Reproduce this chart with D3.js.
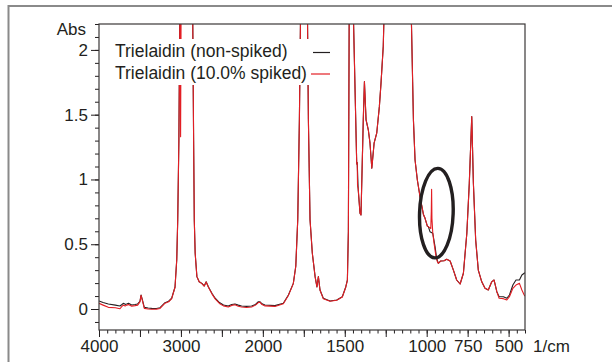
<!DOCTYPE html>
<html>
<head>
<meta charset="utf-8">
<script src="https://cdn.jsdelivr.net/npm/d3@7"></script>
<style>
  body { margin: 0; background: #fff; }
  svg { display: block; font-family: 'Liberation Sans', Arial, sans-serif; }
  .axis text { font-size: 17px; fill: #231f20; }
  .axis line { stroke: #231f20; }
  .label { font-size: 17px; fill: #231f20; }
</style>
</head>
<body>
<svg id="chart"></svg>
<script>
// values: [wavenumber (1/cm), absorbance]
// values above the top of the axis are peaks that run off the chart
const nonSpiked = [
  [4000, 0.062], [3950, 0.05], [3886, 0.039], [3800, 0.03], [3744, 0.023], [3720, 0.035],
  [3703, 0.044], [3680, 0.036], [3662, 0.039], [3640, 0.045], [3601, 0.031], [3560, 0.035],
  [3528, 0.039], [3500, 0.06], [3487, 0.108], [3470, 0.07], [3447, 0.013], [3400, 0.008],
  [3357, 0.005], [3300, 0.004], [3255, 0.01], [3194, 0.049], [3150, 0.06], [3113, 0.083],
  [3072, 0.17], [3051, 0.38], [3039, 0.69], [3025, 1.3], [3010, 2.6], [2860, 2.6],
  [2845, 1.3], [2837, 0.69], [2826, 0.43], [2805, 0.25], [2777, 0.21], [2744, 0.198],
  [2716, 0.178], [2692, 0.21], [2664, 0.17], [2620, 0.12], [2582, 0.083], [2530, 0.05],
  [2481, 0.031], [2422, 0.023], [2380, 0.035], [2340, 0.039], [2300, 0.03], [2259, 0.023],
  [2200, 0.02], [2137, 0.023], [2090, 0.035], [2055, 0.056], [2034, 0.056], [2010, 0.04],
  [1987, 0.031], [1926, 0.026], [1875, 0.044], [1844, 0.108], [1814, 0.198], [1799, 0.33],
  [1787, 0.69], [1777, 1.46], [1767, 2.6], [1730, 2.6], [1722, 1.46], [1712, 0.69],
  [1698, 0.43], [1681, 0.25], [1670, 0.17], [1661, 0.25], [1651, 0.147], [1631, 0.083],
  [1590, 0.062], [1549, 0.07], [1515, 0.095], [1494, 0.17], [1484, 0.224], [1478, 0.6],
  [1472, 2.6], [1451, 2.6], [1448, 2.3], [1427, 1.12], [1424, 1.13], [1418, 0.92],
  [1407, 0.74], [1401, 0.726], [1387, 1.46], [1380, 1.755], [1370, 1.46], [1356, 1.38],
  [1346, 1.28], [1335, 1.087], [1321, 1.28], [1305, 1.357], [1289, 1.56], [1279, 1.74],
  [1265, 2.03], [1254, 2.6], [1100, 2.6], [1093, 2.2], [1081, 1.46], [1071, 1.15],
  [1057, 0.996], [1041, 0.87], [1020, 0.73], [1010, 0.70], [996, 0.64], [990, 0.636],
  [980, 0.597], [963, 0.585], [949, 0.481], [939, 0.39], [929, 0.353], [914, 0.371],
  [894, 0.373], [878, 0.384], [857, 0.371], [837, 0.30], [817, 0.224], [796, 0.193],
  [776, 0.276], [755, 0.585], [740, 0.97], [725, 1.485], [715, 0.97], [701, 0.533],
  [685, 0.30], [664, 0.21], [644, 0.16], [624, 0.147], [603, 0.21], [589, 0.224],
  [572, 0.134], [558, 0.095], [532, 0.095], [511, 0.083], [495, 0.108], [474, 0.185],
  [455, 0.224], [434, 0.224], [419, 0.263], [405, 0.276], [400, 0.28]
];

const spiked = [
  [4000, 0.044], [3950, 0.03], [3886, 0.013], [3800, 0.01], [3744, 0.002], [3720, 0.02],
  [3703, 0.03], [3680, 0.024], [3662, 0.03], [3640, 0.034], [3601, 0.022], [3560, 0.026],
  [3528, 0.03], [3500, 0.055], [3487, 0.105], [3470, 0.065], [3447, 0.005], [3400, 0.0],
  [3357, -0.002], [3300, -0.001], [3255, 0.004], [3194, 0.045], [3150, 0.056], [3113, 0.08],
  [3072, 0.168], [3051, 0.38], [3039, 0.69], [3025, 1.3], [3012, 2.4], [3004, 1.33],
  [2996, 2.6], [2860, 2.6], [2845, 1.3], [2837, 0.69], [2826, 0.43], [2805, 0.25],
  [2777, 0.21], [2744, 0.196], [2716, 0.176], [2692, 0.208], [2664, 0.168], [2620, 0.115],
  [2582, 0.078], [2530, 0.043], [2481, 0.024], [2422, 0.015], [2380, 0.028], [2340, 0.033],
  [2300, 0.022], [2259, 0.015], [2200, 0.012], [2137, 0.016], [2090, 0.03], [2055, 0.05],
  [2034, 0.052], [2010, 0.034], [1987, 0.024], [1926, 0.02], [1875, 0.04], [1844, 0.105],
  [1814, 0.196], [1799, 0.33], [1787, 0.69], [1777, 1.46], [1767, 2.6], [1730, 2.6],
  [1722, 1.46], [1712, 0.69], [1698, 0.43], [1681, 0.25], [1670, 0.17], [1661, 0.25],
  [1651, 0.145], [1631, 0.08], [1590, 0.06], [1549, 0.068], [1515, 0.093], [1494, 0.168],
  [1484, 0.222], [1478, 0.6], [1472, 2.6], [1451, 2.6], [1448, 2.3], [1427, 1.12],
  [1424, 1.13], [1422, 0.95], [1418, 0.93], [1407, 0.74], [1401, 0.726], [1387, 1.46],
  [1380, 1.755], [1370, 1.46], [1356, 1.38], [1346, 1.28], [1335, 1.087], [1321, 1.28],
  [1305, 1.357], [1289, 1.56], [1279, 1.74], [1265, 2.03], [1254, 2.6], [1100, 2.6],
  [1093, 2.2], [1081, 1.46], [1071, 1.15], [1057, 0.996], [1041, 0.87], [1020, 0.73],
  [1010, 0.70], [996, 0.64], [990, 0.636], [975, 0.62], [972, 0.75], [970, 0.924],
  [968, 0.70], [963, 0.59], [955, 0.507], [943, 0.404], [935, 0.365], [929, 0.353],
  [914, 0.371], [894, 0.373], [878, 0.384], [857, 0.371], [837, 0.30], [817, 0.224],
  [796, 0.193], [776, 0.276], [755, 0.585], [740, 0.97], [725, 1.485], [715, 0.97],
  [701, 0.533], [685, 0.30], [664, 0.21], [644, 0.16], [624, 0.147], [603, 0.21],
  [589, 0.224], [572, 0.134], [558, 0.083], [532, 0.08], [511, 0.07], [495, 0.095],
  [474, 0.16], [455, 0.185], [434, 0.198], [419, 0.147], [405, 0.108], [400, 0.10]
];

const seriesNames = ['Trielaidin (non-spiked)', 'Trielaidin (10.0% spiked)'];
const seriesColors = ['#231f20', '#e31e24'];

// axis ticks: the wavenumber axis is split, with twice the scale below 2000
const xBreaks = [4000, 2000, 400];
const xMajor = [4000, 3500, 3000, 2500, 2000, 1750, 1500, 1250, 1000, 750, 500];
const xLabelled = [4000, 3000, 2000, 1500, 1000, 750, 500];
const yMajor = [0, 0.5, 1, 1.5, 2];
const yDomain = [-0.162, 2.2];

// the band that is circled, at about 941 1/cm
const circled = { wn: 941, abs: 0.74 };

class Spectrum {
    constructor(_config) {
        this.config = {
            parentElement: _config.parentElement,
            containerWidth: _config.containerWidth || 612,
            containerHeight: _config.containerHeight || 362,
            margin: _config.margin || {top: 24, right: 87, bottom: 32, left: 99}
        };
        this.initVis();
    }

    initVis() {
        let vis = this;
        vis.width = vis.config.containerWidth - vis.config.margin.left - vis.config.margin.right;
        vis.height = vis.config.containerHeight - vis.config.margin.top - vis.config.margin.bottom;

        vis.xScale = d3.scaleLinear()
            .domain(xBreaks)
            .range([0, vis.width * 2000 / 5200, vis.width]);

        vis.yScale = d3.scaleLinear()
            .domain(yDomain)
            .range([vis.height, 0]);

        vis.svg = d3.select(vis.config.parentElement)
            .attr('width', vis.config.containerWidth)
            .attr('height', vis.config.containerHeight);

        // grey frame round the whole figure
        vis.svg.append('rect')
            .attr('x', 8.5).attr('y', 6)
            .attr('width', 640).attr('height', 400)
            .attr('fill', 'none')
            .attr('stroke', '#8a8a8a')
            .attr('stroke-width', 2);

        vis.chart = vis.svg.append('g')
            .attr('transform', `translate(${vis.config.margin.left}, ${vis.config.margin.top})`);

        vis.chart.append('clipPath').attr('id', 'plot-clip')
            .append('rect')
            .attr('width', vis.width)
            .attr('height', vis.height);

        vis.updateVis();
    }

    updateVis() {
        let vis = this;

        // minor ticks
        let xMinor = d3.range(4000, 2000, -100).concat(d3.range(2000, 399, -50));
        vis.chart.append('g')
            .attr('class', 'axis')
            .attr('transform', `translate(0, ${vis.height})`)
            .call(d3.axisBottom(vis.xScale).tickValues(xMinor).tickSize(3.5).tickFormat(''))
            .call(g => g.select('.domain').remove());

        vis.chart.append('g')
            .attr('class', 'axis')
            .attr('transform', `translate(0, ${vis.height})`)
            .call(d3.axisBottom(vis.xScale)
                .tickValues(xMajor)
                .tickSize(7)
                .tickPadding(3)
                .tickFormat(d => xLabelled.includes(d) ? d : ''))
            .call(g => g.select('.domain').remove());

        let yMinor = d3.range(-1, 23).map(d => d / 10);
        vis.chart.append('g')
            .attr('class', 'axis')
            .call(d3.axisLeft(vis.yScale).tickValues(yMinor).tickSize(4).tickFormat(''))
            .call(g => g.select('.domain').remove());

        vis.chart.append('g')
            .attr('class', 'axis')
            .call(d3.axisLeft(vis.yScale)
                .tickValues(yMajor)
                .tickSize(8)
                .tickPadding(3)
                .tickFormat(d3.format('')))
            .call(g => g.select('.domain').remove());

        // spectra
        let line = d3.line()
            .x(d => vis.xScale(d[0]))
            .y(d => vis.yScale(d[1]));

        vis.chart.append('g')
            .attr('clip-path', 'url(#plot-clip)')
            .selectAll('.spectrum')
                .data([nonSpiked, spiked])
            .join('path')
                .attr('class', 'spectrum')
                .attr('fill', 'none')
                .attr('stroke', (d, i) => seriesColors[i])
                .attr('stroke-width', 1.1)
                .attr('stroke-linejoin', 'round')
                .attr('d', line);

        // legend sits on a white box that hides the lines
        vis.chart.append('rect')
            .attr('x', 11).attr('y', 15)
            .attr('width', 226).attr('height', 46)
            .attr('fill', '#fff');

        let legend = vis.chart.selectAll('.legend')
            .data(seriesNames)
            .join('g')
                .attr('class', 'legend')
                .attr('transform', (d, i) => `translate(16, ${33 + i * 21.5})`);

        legend.append('text')
            .attr('class', 'label')
            .style('font-size', '17.5px')
            .text(d => d);

        legend.append('line')
            .attr('x1', (d, i) => i === 0 ? 198 : 196)
            .attr('x2', 215)
            .attr('y1', -4.5).attr('y2', -4.5)
            .attr('stroke', (d, i) => seriesColors[i])
            .attr('stroke-width', 1.2);

        // ellipse round the spiked band
        vis.chart.append('ellipse')
            .attr('transform', `translate(${vis.xScale(circled.wn)}, ${vis.yScale(circled.abs)}) rotate(2)`)
            .attr('rx', 16.8)
            .attr('ry', 44.8)
            .attr('fill', 'none')
            .attr('stroke', '#231f20')
            .attr('stroke-width', 3.4);

        // frame round the plot
        vis.chart.append('rect')
            .attr('width', vis.width)
            .attr('height', vis.height)
            .attr('fill', 'none')
            .attr('stroke', '#3b3738')
            .attr('stroke-width', 1.2);

        // axis names
        vis.svg.append('text')
            .attr('class', 'label')
            .attr('x', 86).attr('y', 35)
            .style('text-anchor', 'end')
            .text('Abs');

        vis.svg.append('text')
            .attr('class', 'label')
            .attr('x', 533).attr('y', 352)
            .text('1/cm');
    }
}

new Spectrum({ parentElement: '#chart' });
</script>
</body>
</html>
